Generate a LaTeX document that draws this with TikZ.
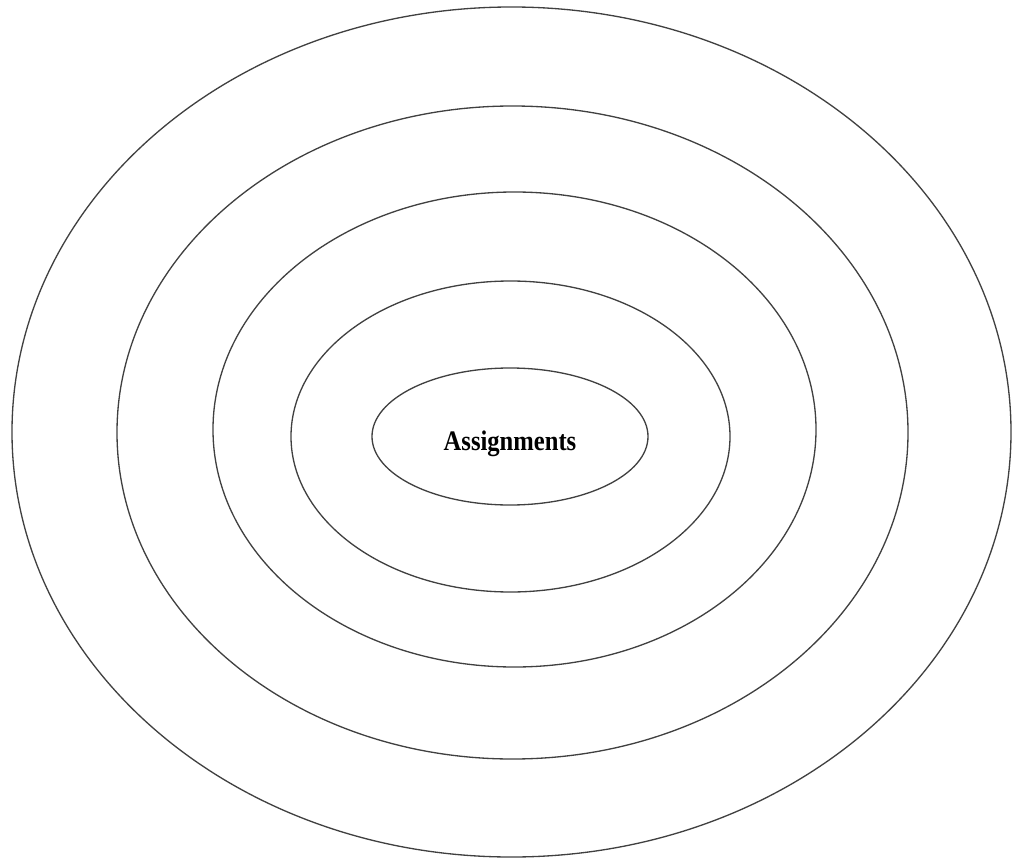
\documentclass[tikz,border=0pt]{standalone}
\usepackage{fontspec}
\setmainfont{Liberation Serif}
\usetikzlibrary{shapes.geometric}
\tikzset{ring/.style={ellipse,draw=black!75,line width=0.75pt,inner sep=0pt}}

\begin{document}
\begin{tikzpicture}[x=0.02cm,y=-0.02cm]
    \useasboundingbox (0,0) rectangle (1012,859);
    % rings, outermost first
    \foreach \cx/\cy/\rx/\ry [count=\i] in {
      511.5/432/499.5/425,
      512.5/432.5/395.5/326.5,
      514.5/429.5/301.5/237.5,
      510.5/436.5/219.5/155.5,
      510/436.5/138/68.5}
    {
      \pgfmathsetmacro{\w}{2*\rx*0.02}
      \pgfmathsetmacro{\h}{2*\ry*0.02}
      \node[ring,minimum width=\w cm,minimum height=\h cm] (ring\i) at (\cx,\cy) {};
    }
    \node[font=\bfseries\fontsize{14}{16}\selectfont] (core) at (510,444) {\scalebox{1}[1.15]{Assignments}};
  \end{tikzpicture}
\end{document}
